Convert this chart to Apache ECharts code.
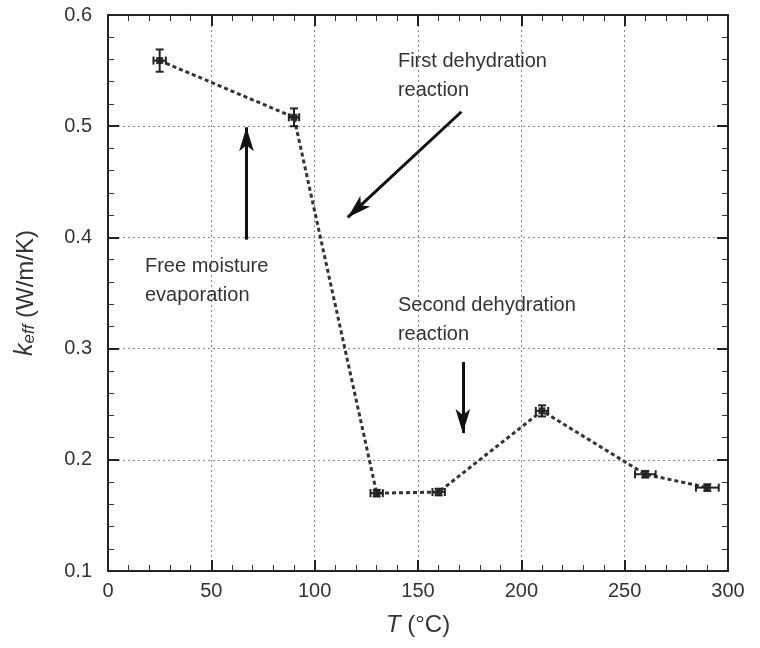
<!DOCTYPE html>
<html><head><meta charset="utf-8">
<script src="https://cdn.jsdelivr.net/npm/echarts@6/dist/echarts.min.js"></script>
<style>html,body{margin:0;padding:0;background:#fff}#c{width:760px;height:648px}</style>
</head><body><div id="c"></div>
<script>
// Data
const temps = [25, 90, 130, 160, 210, 260, 290];
const keff = [0.559, 0.508, 0.170, 0.171, 0.244, 0.187, 0.175];
const tErr = [3, 2.5, 3, 3, 3, 5, 5.5];
const kErr = [0.010, 0.008, 0.003, 0.003, 0.005, 0.003, 0.003];
const xTicks = [0, 50, 100, 150, 200, 250, 300];
const yTicks = [0.1, 0.2, 0.3, 0.4, 0.5, 0.6];
// Annotations (data space)
const arrowFrom = [[171, 0.513], [67, 0.398], [171.7, 0.288]];
const arrowTo = [[116, 0.418], [67, 0.499], [171.7, 0.224]];
const noteText = [['First dehydration', 'reaction'], ['Free moisture', 'evaporation'], ['Second dehydration', 'reaction']];
const noteAt = [[140.3, 0.571], [17.9, 0.387], [140.3, 0.352]];

const FONT = 'Liberation Sans, Arial, sans-serif';
const chart = echarts.init(document.getElementById('c'));
const pts = temps.map((t, i) => [t, keff[i], tErr[i], kErr[i]]);

function common() {
  return {
    axisLine: {show: true, onZero: false, lineStyle: {color: '#222', width: 2}},
    axisTick: {show: true, inside: true, length: 11, lineStyle: {color: '#222', width: 2}},
    minorTick: {show: true, splitNumber: 5, length: 6, lineStyle: {color: '#333', width: 1}},
  };
}
const xMin = xTicks[0], xMax = xTicks[xTicks.length - 1];
const yMin = yTicks[0], yMax = yTicks[yTicks.length - 1];

chart.setOption({
  animation: false,
  grid: {left: 108, right: 32, top: 15, bottom: 77},
  xAxis: [
    Object.assign(common(), {
      type: 'value', min: xMin, max: xMax, interval: 50, position: 'bottom',
      axisLabel: {fontFamily: FONT, fontSize: 20, color: '#333', margin: 10},
      splitLine: {show: true, lineStyle: {color: '#888', width: 1, type: [2, 3]}},
      name: '{i|T} (°C)', nameLocation: 'middle', nameGap: 42,
      nameTextStyle: {fontFamily: FONT, fontSize: 24, color: '#333', rich: {i: {fontStyle: 'italic', fontFamily: FONT, fontSize: 24, color: '#333'}}}
    }),
    Object.assign(common(), {
      type: 'value', position: 'top', min: xMin, max: xMax, interval: 50,
      axisLabel: {show: false}, splitLine: {show: false}
    })
  ],
  yAxis: [
    Object.assign(common(), {
      type: 'value', min: yMin, max: yMax, interval: 0.1, position: 'left',
      axisLabel: {fontFamily: FONT, fontSize: 20, color: '#333', margin: 16, formatter: v => v.toFixed(1)},
      splitLine: {show: true, lineStyle: {color: '#888', width: 1, type: [2, 3]}},
      name: '{k|k}{s|eff}{n| (W/m/K)}', nameLocation: 'middle', nameGap: 70,
      nameTextStyle: {fontFamily: FONT, fontSize: 24, color: '#333', rich: {
        k: {fontStyle: 'italic', fontFamily: FONT, fontSize: 25, color: '#333', lineHeight: 30, verticalAlign: 'bottom'},
        s: {fontStyle: 'italic', fontFamily: FONT, fontSize: 17, color: '#333', lineHeight: 30, verticalAlign: 'bottom', padding: [9, 0, 0, 0]},
        n: {fontFamily: FONT, fontSize: 24, color: '#333', lineHeight: 30, verticalAlign: 'bottom'}
      }}
    }),
    Object.assign(common(), {
      type: 'value', position: 'right', min: yMin, max: yMax, interval: 0.1,
      axisLabel: {show: false}, splitLine: {show: false}
    })
  ],
  series: [
    {
      type: 'line', data: pts.map(p => [p[0], p[1]]), symbol: 'rect', symbolSize: 7,
      itemStyle: {color: '#333'},
      lineStyle: {color: '#333', width: 3, type: [4, 3]}, z: 3
    },
    {
      type: 'custom', data: pts, z: 4,
      renderItem: function (params, api) {
        const x = api.value(0), y = api.value(1), dx = api.value(2), dy = api.value(3);
        const top = api.coord([x, y + dy]), bot = api.coord([x, y - dy]);
        const lft = api.coord([x - dx, y]), rgt = api.coord([x + dx, y]);
        const st = {stroke: '#222', lineWidth: 2};
        const cap = 4;
        return {type: 'group', children: [
          {type: 'line', shape: {x1: top[0], y1: top[1], x2: bot[0], y2: bot[1]}, style: st},
          {type: 'line', shape: {x1: top[0] - cap, y1: top[1], x2: top[0] + cap, y2: top[1]}, style: st},
          {type: 'line', shape: {x1: bot[0] - cap, y1: bot[1], x2: bot[0] + cap, y2: bot[1]}, style: st},
          {type: 'line', shape: {x1: lft[0], y1: lft[1], x2: rgt[0], y2: rgt[1]}, style: st},
          {type: 'line', shape: {x1: lft[0], y1: lft[1] - cap, x2: lft[0], y2: lft[1] + cap}, style: st},
          {type: 'line', shape: {x1: rgt[0], y1: rgt[1] - cap, x2: rgt[0], y2: rgt[1] + cap}, style: st}
        ]};
      }
    },
    {
      type: 'line', data: [], silent: true,
      markLine: {
        silent: true, animation: false, symbol: ['none', 'arrow'], symbolSize: [11, 24],
        label: {show: false},
        lineStyle: {color: '#111', width: 3, type: 'solid'},
        data: arrowFrom.map((f, i) => [{coord: f}, {coord: arrowTo[i]}])
      }
    }
  ]
});

const graphics = [];
noteText.forEach((lines, i) => {
  const p = chart.convertToPixel({xAxisIndex: 0, yAxisIndex: 0}, noteAt[i]);
  graphics.push({type: 'text', left: p[0], top: p[1], style: {text: lines.join('\n'), fontFamily: FONT, fontSize: 20, lineHeight: 29, fill: '#333'}});
});
chart.setOption({graphic: graphics});
</script></body></html>
